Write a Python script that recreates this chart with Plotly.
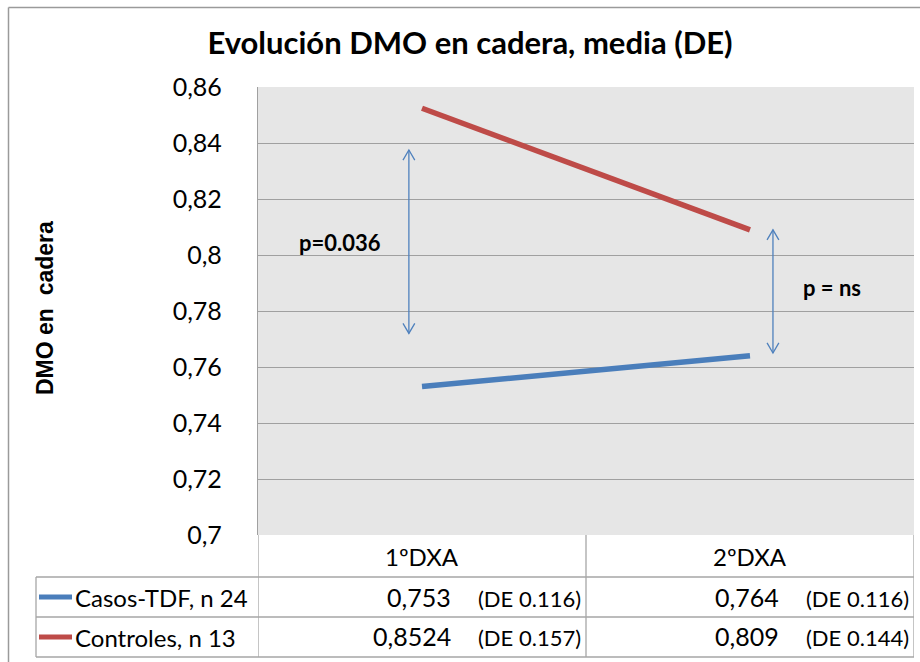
import plotly.graph_objects as go

categories = ["1ºDXA", "2ºDXA"]
series_names = ["Casos-TDF, n 24", "Controles, n 13"]
casos_values = [0.753, 0.764]
controles_values = [0.8524, 0.809]
casos_labels = ["0,753", "0,764"]
controles_labels = ["0,8524", "0,809"]
casos_de = ["(DE 0.116)", "(DE 0.116)"]
controles_de = ["(DE 0.157)", "(DE 0.144)"]
tick_vals = [0.70, 0.72, 0.74, 0.76, 0.78, 0.80, 0.82, 0.84, 0.86]
tick_text = ["0,7", "0,72", "0,74", "0,76", "0,78", "0,8", "0,82", "0,84", "0,86"]
arrow_1 = [0.8375, 0.772]
arrow_2 = [0.809, 0.765]
p_labels = ["p=0.036", "p = ns"]

W, H = 920, 662
ML, MR, MT, MB = 258, 6, 87, 127
PH = H - MT - MB
PW = W - ML - MR

def py(y_px):
    return (H - MB - y_px) / PH

def px(x_px):
    return (x_px - ML) / PW

FONT = "Lato"
BLUE = "#4a7ebb"
RED = "#be4b48"
GRID = "#a0a0a0"
ARROW = "#4f81bd"

xs = [0, 1]
fig = go.Figure()
fig.add_trace(go.Scatter(x=xs, y=casos_values, mode="lines", line=dict(color=BLUE, width=5.5),
                         name=series_names[0], showlegend=False))
fig.add_trace(go.Scatter(x=xs, y=controles_values, mode="lines", line=dict(color=RED, width=5.5),
                         name=series_names[1], showlegend=False))

shapes = []
annotations = []

def chevron(xa, yy, up):
    dy = -0.0036 if up else 0.0036
    return dict(type="path", xref="x", yref="y",
                path=f"M {xa-0.018},{yy+dy} L {xa},{yy} L {xa+0.018},{yy+dy}",
                line=dict(color=ARROW, width=1.3))

for xa, (ytop, ybot) in zip([-0.04, 1.07], [arrow_1, arrow_2]):
    shapes.append(dict(type="line", xref="x", yref="y", x0=xa, x1=xa, y0=ytop, y1=ybot,
                       line=dict(color=ARROW, width=1.3)))
    shapes.append(chevron(xa, ytop, True))
    shapes.append(chevron(xa, ybot, False))

annotations.append(dict(x=-0.25, y=0.8045, xref="x", yref="y", text=f"<b>{p_labels[0]}</b>",
                        showarrow=False, font=dict(family=FONT, size=22, color="black")))
annotations.append(dict(x=1.25, y=0.7885, xref="x", yref="y", text=f"<b>{p_labels[1]}</b>",
                        showarrow=False, font=dict(family=FONT, size=22, color="black")))

# data table
TC = "#a6a6a6"
row_y = [577, 617, 657]
for xv in [-0.5, 0.5, 1.5]:
    shapes.append(dict(type="line", xref="x", yref="paper", x0=xv, x1=xv, y0=py(535), y1=py(row_y[2]),
                       line=dict(color=TC, width=1.3)))
shapes.append(dict(type="line", xref="paper", yref="paper", x0=px(36), x1=px(36),
                   y0=py(row_y[0]), y1=py(row_y[2]), line=dict(color=TC, width=1.3)))
for yv in row_y:
    shapes.append(dict(type="line", xref="paper", yref="paper", x0=px(36), x1=1,
                       y0=py(yv), y1=py(yv), line=dict(color=TC, width=1.3)))
# outer chart border
shapes.append(dict(type="line", xref="paper", yref="paper", x0=px(8.5), x1=px(8.5),
                   y0=py(7.5), y1=py(670), line=dict(color="#9a9a9a", width=1.5)))
shapes.append(dict(type="line", xref="paper", yref="paper", x0=px(8.5), x1=px(930),
                   y0=py(7.5), y1=py(7.5), line=dict(color="#9a9a9a", width=1.5)))

# legend keys
for i, (c, yv) in enumerate([(BLUE, 597), (RED, 637)]):
    shapes.append(dict(type="line", xref="paper", yref="paper", x0=px(39), x1=px(72),
                       y0=py(yv), y1=py(yv), line=dict(color=c, width=5)))
    annotations.append(dict(x=px(73), y=py(yv), xref="paper", yref="paper", xanchor="left", yanchor="middle",
                            text=series_names[i], showarrow=False, font=dict(family=FONT, size=24, color="black")))

for j, cat in enumerate(categories):
    annotations.append(dict(x=j, y=py(556), xref="x", yref="paper", xanchor="center", yanchor="middle", text=cat,
                            showarrow=False, font=dict(family=FONT, size=24, color="black")))
    for labels, des, yv in [(casos_labels, casos_de, 597), (controles_labels, controles_de, 636)]:
        annotations.append(dict(x=j + 0.095, y=py(yv), xref="x", yref="paper", xanchor="right", yanchor="middle",
                                text=labels[j], showarrow=False, font=dict(family=FONT, size=25, color="black")))
        annotations.append(dict(x=j + 0.49, y=py(yv + 1), xref="x", yref="paper", xanchor="right", yanchor="middle",
                                text=des[j], showarrow=False, font=dict(family=FONT, size=22, color="black")))

# y axis title
annotations.append(dict(x=px(45), y=py(308), xref="paper", yref="paper", xanchor="center", yanchor="middle",
                        text="<b>DMO en  cadera</b>", textangle=-90, showarrow=False,
                        font=dict(family="Liberation Sans", size=23, color="black")))

fig.update_layout(
    width=W, height=H,
    margin=dict(l=ML, r=MR, t=MT, b=MB),
    paper_bgcolor="white", plot_bgcolor="#e6e6e6",
    title=dict(text="<b>Evolución DMO en cadera, media (DE)</b>", x=470 / W, xref="container", xanchor="center",
               y=1 - 43 / H, yref="container", yanchor="middle", font=dict(family=FONT, size=31, color="black")),
    xaxis=dict(range=[-0.5, 1.5], showticklabels=False, showgrid=False, zeroline=False,
               showline=False),
    yaxis=dict(range=[0.7, 0.86], tickvals=tick_vals, ticktext=tick_text, showgrid=True, gridcolor=GRID,
               gridwidth=1.3, zeroline=False, showline=True, linecolor=GRID, linewidth=1.3, ticks="",
               ticklabelstandoff=30, tickfont=dict(family=FONT, size=25, color="black")),
    shapes=shapes, annotations=annotations,
)
fig.write_html("out.html", config={"displayModeBar": False},
               post_script="document.body.style.margin='0';document.body.style.padding='0';")
